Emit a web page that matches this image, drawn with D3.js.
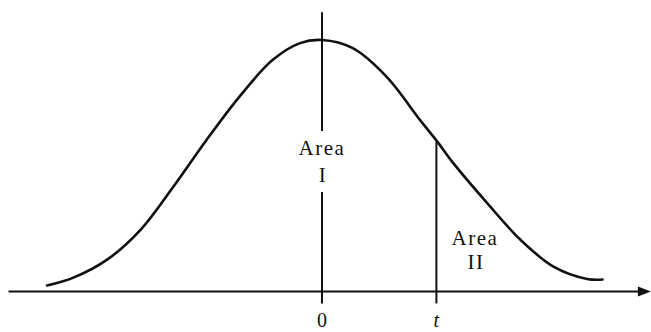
<!DOCTYPE html>
<html>
<head>
<meta charset="utf-8">
<script src="https://d3js.org/d3.v7.min.js"></script>
<style>
  body { margin: 0; background: #fff; }
  text { font-family: "Liberation Serif", "DejaVu Serif", serif; fill: #111; }
</style>
</head>
<body>
<script>
var width = 651;
var height = 332;

// curve points (z, height)
var curveZ = [-2.50, -2.26, -1.95, -1.65, -1.35, -1.05, -0.75, -0.45, -0.20, 0.00,
  0.28, 0.59, 0.89, 1.05, 1.19, 1.50, 1.80, 2.10, 2.41, 2.55];
var curveY = [0.0095, 0.022, 0.051, 0.098, 0.167, 0.241, 0.310, 0.368, 0.395, 0.400,
  0.387, 0.341, 0.273, 0.238, 0.205, 0.141, 0.083, 0.040, 0.020, 0.019];

var tickValues = [0, 1.04];
var tickLabels = ["0", "t"];
var tHeight = 0.238;

var vis = d3.select("body").append("svg")
  .attr("width", width).attr("height", height)
  .style("background-color", "#fff");

var x = d3.scaleLinear().domain([-3, 3]).range([-8, 652]);
var y = d3.scaleLinear().domain([0, 0.4]).range([291.5, 40]);

var ink = "#111";

// horizontal axis with arrow
vis.append("line")
  .attr("x1", x(-2.85)).attr("x2", x(2.88))
  .attr("y1", y(0)).attr("y2", y(0))
  .style("stroke", ink).style("stroke-width", 2);

vis.append("path")
  .attr("d", "M" + x(2.99) + "," + y(0) + " L" + (x(2.99) - 13) + "," + (y(0) - 5) +
    " L" + (x(2.99) - 13) + "," + (y(0) + 5) + " Z")
  .style("fill", ink);

// vertical line at 0 and at t
vis.append("line")
  .attr("x1", x(0)).attr("x2", x(0))
  .attr("y1", y(0.444)).attr("y2", y(-0.019))
  .style("stroke", ink).style("stroke-width", 2);

vis.append("line")
  .attr("x1", x(tickValues[1])).attr("x2", x(tickValues[1]))
  .attr("y1", y(tHeight)).attr("y2", y(-0.019))
  .style("stroke", ink).style("stroke-width", 2);

// the curve
var pts = curveZ.map(function (z, i) { return [z, curveY[i]]; });
var line = d3.line()
  .x(function (d) { return x(d[0]); })
  .y(function (d) { return y(d[1]); })
  .curve(d3.curveCatmullRom.alpha(0.5));

vis.append("path")
  .datum(pts)
  .attr("d", line)
  .style("fill", "none")
  .style("stroke", ink)
  .style("stroke-width", 2.6)
  .style("stroke-linecap", "round");

// gap in the axis behind "Area I"
vis.append("rect")
  .attr("x", x(0) - 5).attr("y", 131)
  .attr("width", 10).attr("height", 61)
  .style("fill", "#fff");

function label(txt, cx, by) {
  vis.append("text")
    .attr("x", cx).attr("y", by)
    .attr("text-anchor", "middle")
    .style("font-size", "21px")
    .style("letter-spacing", "1.5px")
    .text(txt);
}

label("Area", x(0), 155);
label("I", x(0) + 1, 182);
label("Area", 475, 245);
label("II", 476, 269);

// tick labels
vis.selectAll("text.tick").data(tickValues).enter().append("text")
  .attr("class", "tick")
  .attr("x", function (d) { return x(d); })
  .attr("y", 327)
  .attr("text-anchor", "middle")
  .style("font-size", "20px")
  .style("font-style", function (d, i) { return i === 1 ? "italic" : "normal"; })
  .text(function (d, i) { return tickLabels[i]; });
</script>
</body>
</html>
